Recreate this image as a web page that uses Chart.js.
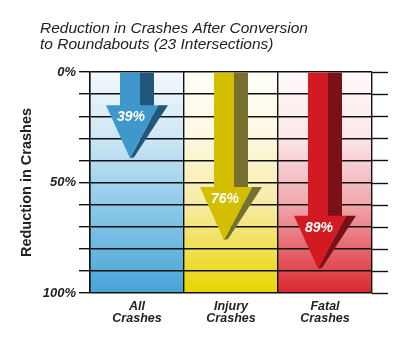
<!DOCTYPE html>
<html>
<head>
<meta charset="utf-8">
<script src="https://cdn.jsdelivr.net/npm/chart.js@4"></script>
<style>
  html, body { margin: 0; padding: 0; background: #fff; }
  canvas { display: block; }
</style>
</head>
<body>
<canvas id="crashChart" width="407" height="349"></canvas>
<script>
// Chart data
const titleLines = ['Reduction in Crashes After Conversion', 'to Roundabouts (23 Intersections)'];
const categories = [['All', 'Crashes'], ['Injury', 'Crashes'], ['Fatal', 'Crashes']];
const reductions = [39, 76, 89];
const labelledTicks = [0, 50, 100];

// Column backgrounds (top -> bottom) and arrow colours
const columnStops = [
    ['#f4f9fd', '#cde6f4', '#8ecae9', '#47a4d7'],
    ['#fffffa', '#fdf8e0', '#f6eba4', '#e8d500'],
    ['#fffafa', '#fbe6e8', '#f0a6ac', '#dc272e']
];
const arrowColors = [
    { face: '#3f98cc', side: '#22577a' },
    { face: '#d3bf00', side: '#77702f' },
    { face: '#d11a22', side: '#7a1116' }
];

Chart.defaults.font.family = '"Liberation Sans", Arial, sans-serif';

const headHeight = 53;

// Gradient fill behind each category column
const columnBackgrounds = {
    id: 'columnBackgrounds',
    beforeDraw(chart) {
        const { ctx, chartArea, scales } = chart;
        const xs = scales.x;
        const half = (xs.getPixelForValue(1) - xs.getPixelForValue(0)) / 2;
        ctx.save();
        categories.forEach((c, i) => {
            const cx = xs.getPixelForValue(i);
            const g = ctx.createLinearGradient(0, chartArea.top, 0, chartArea.bottom);
            const s = columnStops[i];
            g.addColorStop(0, s[0]);
            g.addColorStop(0.3, s[1]);
            g.addColorStop(0.6, s[2]);
            g.addColorStop(1, s[3]);
            ctx.fillStyle = g;
            ctx.fillRect(cx - half, chartArea.top, half * 2, chartArea.bottom - chartArea.top);
        });
        ctx.restore();
    },
    beforeDatasetsDraw(chart) {
        // horizontal rules run a little past the last column
        const { ctx, chartArea, scales } = chart;
        ctx.save();
        ctx.strokeStyle = '#111';
        ctx.lineWidth = 1.4;
        scales.y.ticks.forEach(t => {
            const y = Math.round(scales.y.getPixelForValue(t.value)) + 0.5;
            ctx.beginPath();
            ctx.moveTo(chartArea.right, y);
            ctx.lineTo(chartArea.right + 16, y);
            ctx.stroke();
        });
        ctx.restore();
    }
};

// 3D down arrows ending at each bar's value
const arrows = {
    id: 'arrows',
    afterDatasetsDraw(chart) {
        const { ctx } = chart;
        const meta = chart.getDatasetMeta(0);
        ctx.save();
        meta.data.forEach((bar, i) => {
            const { x, y, base, width } = bar.getProps(['x', 'y', 'base', 'width'], true);
            const h = width / 2;
            const ht = y - headHeight;
            const col = arrowColors[i];

            // shaft
            ctx.fillStyle = col.face;
            ctx.fillRect(x - 17, base, 20, ht - base + 1);
            ctx.fillStyle = col.side;
            ctx.fillRect(x + 3, base, 14, ht - base + 1);

            // head, side face
            ctx.fillStyle = col.side;
            ctx.beginPath();
            ctx.moveTo(x + 0.68 * h, ht);
            ctx.lineTo(x + h, ht);
            ctx.lineTo(x - 3, y - 1);
            ctx.lineTo(x - 7, y);
            ctx.closePath();
            ctx.fill();

            // head, front face
            ctx.fillStyle = col.face;
            ctx.beginPath();
            ctx.moveTo(x - h, ht);
            ctx.lineTo(x + 0.68 * h, ht);
            ctx.lineTo(x - 7, y);
            ctx.closePath();
            ctx.fill();

            ctx.fillStyle = '#fff';
            ctx.font = 'italic bold 14px "Liberation Sans", Arial, sans-serif';
            ctx.textAlign = 'center';
            ctx.textBaseline = 'middle';
            ctx.fillText(reductions[i] + '%', x - 6, ht + 12);
        });
        ctx.restore();
    }
};

// Two-line italic heading
const heading = {
    id: 'heading',
    afterDraw(chart) {
        const { ctx } = chart;
        ctx.save();
        ctx.fillStyle = '#222';
        ctx.font = 'italic 15.5px "Liberation Sans", Arial, sans-serif';
        ctx.textAlign = 'left';
        ctx.textBaseline = 'alphabetic';
        titleLines.forEach((line, i) => ctx.fillText(line, 40, 32.5 + i * 16.7));
        ctx.restore();
    }
};

new Chart(document.getElementById('crashChart'), {
    type: 'bar',
    data: {
        labels: categories,
        datasets: [{
            data: reductions,
            backgroundColor: 'rgba(0,0,0,0)',
            borderWidth: 0,
            categoryPercentage: 1,
            barPercentage: 0.66
        }]
    },
    options: {
        responsive: false,
        animation: false,
        events: [],
        layout: { padding: { top: 72, right: 35, bottom: 0, left: 0 } },
        plugins: {
            legend: { display: false },
            tooltip: { enabled: false }
        },
        scales: {
            x: {
                afterFit(scale) { scale.height = 56; },
                grid: { offset: true, color: '#111', lineWidth: 1.4, drawTicks: false },
                border: { display: false },
                ticks: {
                    color: '#222',
                    padding: 7,
                    font: { size: 12.5, weight: 'bold', style: 'italic', lineHeight: 0.98 }
                }
            },
            y: {
                reverse: true,
                min: 0,
                max: 100,
                afterFit(scale) { scale.width = 90; },
                grid: { color: '#111', lineWidth: 1.4, tickLength: 11 },
                border: { display: true, color: '#111', width: 1.4 },
                ticks: {
                    stepSize: 10,
                    padding: 3,
                    color: '#222',
                    font: { size: 13, weight: 'bold', style: 'italic' },
                    callback: v => labelledTicks.includes(v) ? v + '%' : ''
                },
                title: {
                    display: true,
                    text: 'Reduction in Crashes',
                    color: '#222',
                    font: { size: 14.5, weight: 'bold' },
                    padding: { top: 18, bottom: 0 }
                }
            }
        }
    },
    plugins: [columnBackgrounds, arrows, heading]
});
</script>
</body>
</html>
